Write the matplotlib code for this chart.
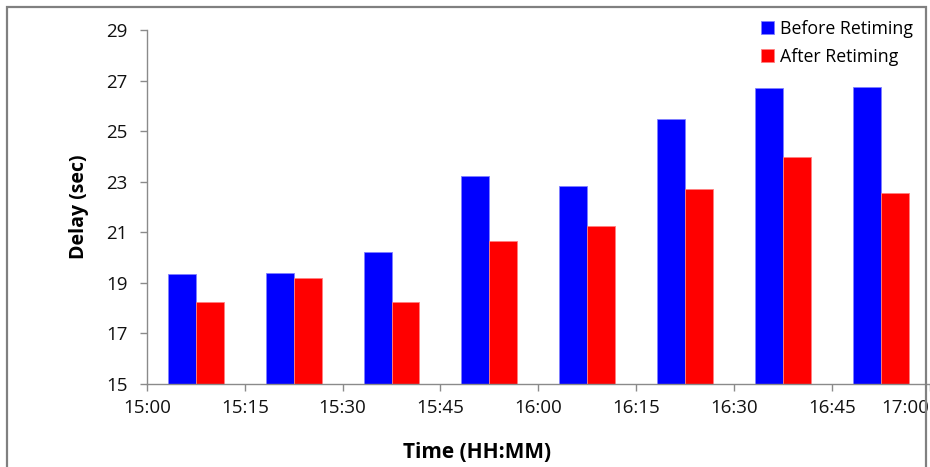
import matplotlib
matplotlib.use("Agg")
import matplotlib.pyplot as plt
import numpy as np
from matplotlib.patches import Rectangle

# Data
time_labels = ["15:00", "15:15", "15:30", "15:45", "16:00", "16:15", "16:30", "16:45", "17:00"]
before_retiming = [19.34, 19.40, 20.21, 23.22, 22.83, 25.47, 26.69, 26.73]
after_retiming = [18.23, 19.18, 18.23, 20.65, 21.24, 22.71, 23.96, 22.54]
y_ticks = [15, 17, 19, 21, 23, 25, 27, 29]

plt.rcParams["font.family"] = ["Open Sans", "DejaVu Sans"]

W, H = 930, 467
fig = plt.figure(figsize=(W / 100, H / 100), dpi=100)

ax_left, ax_right = 147, 929.5
ax_top, ax_bottom = 30, 384
ax = fig.add_axes([ax_left / W, 1 - ax_bottom / H,
                   (ax_right - ax_left) / W, (ax_bottom - ax_top) / H])

n = len(before_retiming)
centers = np.arange(n) + 0.5
w = 1 / 3.5
ax.bar(centers - w / 2, before_retiming, width=w, bottom=0, color="#0000ff",
       edgecolor="#8080ff", linewidth=0.6, label="Before Retiming", zorder=2)
ax.bar(centers + w / 2, after_retiming, width=w, bottom=0, color="#ff0000",
       edgecolor="#ff8080", linewidth=0.6, label="After Retiming", zorder=2)

ax.set_xlim(0, n)
ax.set_ylim(15, 29)
ax.set_yticks(y_ticks)
ax.set_xticks(np.arange(len(time_labels)))
ax.set_xticklabels(time_labels)
ax.get_xticklabels()[-1].set_horizontalalignment("right")

spine_color = "#8a8a8a"
for s in ["top", "right"]:
    ax.spines[s].set_visible(False)
for s in ["left", "bottom"]:
    ax.spines[s].set_color(spine_color)
    ax.spines[s].set_linewidth(1.0)

ax.tick_params(axis="both", colors=spine_color, length=5, width=1.0,
               labelcolor="#111111", labelsize=13.5)
ax.tick_params(axis="y", pad=9)
ax.tick_params(axis="x", pad=6)

fig.text(79 / W, 1 - 207 / H, "Delay (sec)", rotation=90, ha="center", va="center",
         fontsize=14, fontweight="bold")
fig.text(477 / W, 1 - 453 / H, "Time (HH:MM)", ha="center", va="center",
         fontsize=15, fontweight="bold")

leg = fig.legend(loc="upper left", bbox_to_anchor=(761 / W, 1 - 20 / H),
                 frameon=False, fontsize=12.8, handlelength=0.75, handleheight=0.75,
                 handletextpad=0.3, labelspacing=0.55, borderaxespad=0,
                 borderpad=0)

# Outer chart border
fig.add_artist(Rectangle((7 / W, -0.05), (926 - 7) / W, 1.05 - 7 / H,
                         transform=fig.transFigure, fill=False,
                         edgecolor="#808080", linewidth=1.6))

fig.savefig("out.png", dpi=100)
